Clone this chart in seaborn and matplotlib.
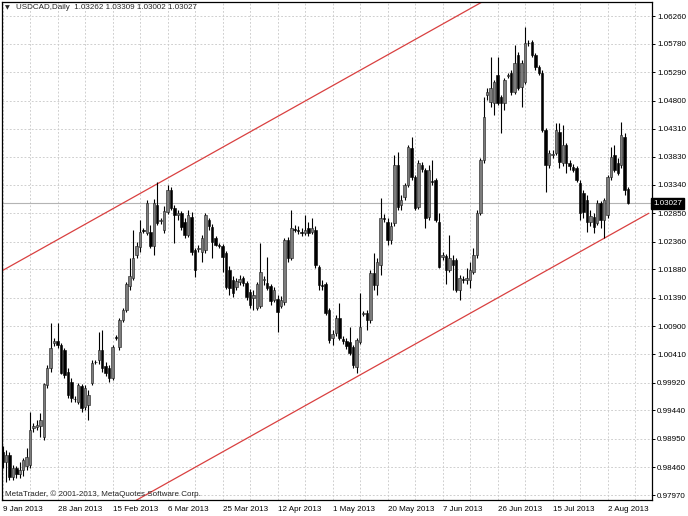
import numpy as np
import pandas as pd
import seaborn as sns
import matplotlib
matplotlib.use("Agg")
import matplotlib.pyplot as plt
import matplotlib.transforms as mtransforms

# --- data --------------------------------------------------------------
symbol = "USDCAD,Daily"
last_ohlc = [1.03262, 1.03309, 1.03002, 1.03027]
date_labels = ["9 Jan 2013", "28 Jan 2013", "15 Feb 2013", "6 Mar 2013",
               "25 Mar 2013", "12 Apr 2013", "1 May 2013", "20 May 2013",
               "7 Jun 2013", "26 Jun 2013", "15 Jul 2013", "2 Aug 2013"]
bars_per_label = 16

opens = [0.9872, 0.9855, 0.9867, 0.9829, 0.9844, 0.9834, 0.9841, 0.9848, 0.9850, 0.9914,
         0.9915, 0.9917, 0.9898, 0.9988, 1.0018, 1.0061, 1.0064, 1.0057, 1.0049, 1.0011,
         0.9993, 0.9964, 0.9959, 0.9986, 0.9950, 0.9953, 0.9991, 1.0028, 1.0031, 1.0049,
         1.0021, 1.0018, 1.0000, 1.0071, 1.0054, 1.0100, 1.0118, 1.0159, 1.0173, 1.0213,
         1.0227, 1.0256, 1.0251, 1.0253, 1.0228, 1.0299, 1.0272, 1.0256, 1.0287, 1.0325,
         1.0294, 1.0282, 1.0286, 1.0270, 1.0248, 1.0279, 1.0222, 1.0223, 1.0218, 1.0222,
         1.0273, 1.0261, 1.0242, 1.0230, 1.0228, 1.0216, 1.0187, 1.0170, 1.0157, 1.0166,
         1.0173, 1.0164, 1.0149, 1.0138, 1.0121, 1.0125, 1.0170, 1.0164, 1.0159, 1.0135,
         1.0137, 1.0125, 1.0131, 1.0239, 1.0208, 1.0258, 1.0256, 1.0253, 1.0251, 1.0260,
         1.0253, 1.0256, 1.0192, 1.0161, 1.0163, 1.0118, 1.0069, 1.0078, 1.0104, 1.0067,
         1.0064, 1.0062, 1.0054, 1.0019, 1.0062, 1.0111, 1.0113, 1.0100, 1.0182, 1.0161,
         1.0196, 1.0277, 1.0270, 1.0239, 1.0268, 1.0369, 1.0299, 1.0313, 1.0334, 1.0398,
         1.0348, 1.0296, 1.0369, 1.0360, 1.0279, 1.0341, 1.0343, 1.0270, 1.0209, 1.0211,
         1.0187, 1.0204, 1.0204, 1.0152, 1.0171, 1.0170, 1.0170, 1.0183, 1.0213, 1.0286,
         1.0377, 1.0490, 1.0478, 1.0476, 1.0524, 1.0486, 1.0476, 1.0523, 1.0528, 1.0495,
         1.0559, 1.0503, 1.0512, 1.0580, 1.0581, 1.0559, 1.0538, 1.0528, 1.0429, 1.0369,
         1.0386, 1.0389, 1.0426, 1.0372, 1.0403, 1.0372, 1.0365, 1.0363, 1.0337, 1.0320,
         1.0308, 1.0270, 1.0279, 1.0268, 1.0303, 1.0273, 1.0282, 1.0348, 1.0386, 1.0372,
         1.0369, 1.0417, 1.03262]
highs = [0.9882, 0.9876, 0.9872, 0.9850, 0.9848, 0.9855, 0.9862, 0.9879, 0.9941, 0.9922,
         0.9927, 0.9939, 0.9991, 1.0023, 1.0095, 1.0069, 1.0095, 1.0061, 1.0052, 1.0018,
         1.0000, 0.9969, 0.9991, 0.9990, 0.9988, 0.9979, 1.0031, 1.0031, 1.0080, 1.0083,
         1.0028, 1.0023, 1.0057, 1.0075, 1.0104, 1.0121, 1.0166, 1.0208, 1.0256, 1.0235,
         1.0273, 1.0260, 1.0308, 1.0265, 1.0310, 1.0339, 1.0277, 1.0298, 1.0334, 1.0331,
         1.0299, 1.0291, 1.0289, 1.0277, 1.0291, 1.0287, 1.0225, 1.0230, 1.0248, 1.0286,
         1.0277, 1.0267, 1.0246, 1.0234, 1.0232, 1.0220, 1.0194, 1.0177, 1.0173, 1.0178,
         1.0177, 1.0168, 1.0154, 1.0152, 1.0166, 1.0234, 1.0177, 1.0209, 1.0163, 1.0157,
         1.0144, 1.0142, 1.0242, 1.0244, 1.0291, 1.0265, 1.0263, 1.0260, 1.0282, 1.0270,
         1.0277, 1.0263, 1.0196, 1.0170, 1.0166, 1.0121, 1.0083, 1.0109, 1.0130, 1.0073,
         1.0069, 1.0088, 1.0057, 1.0069, 1.0147, 1.0116, 1.0118, 1.0187, 1.0216, 1.0208,
         1.0311, 1.0284, 1.0277, 1.0270, 1.0386, 1.0391, 1.0317, 1.0337, 1.0403, 1.0417,
         1.0351, 1.0377, 1.0374, 1.0363, 1.0369, 1.0377, 1.0346, 1.0286, 1.0218, 1.0215,
         1.0248, 1.0213, 1.0208, 1.0178, 1.0177, 1.0190, 1.0201, 1.0225, 1.0291, 1.0381,
         1.0486, 1.0502, 1.0555, 1.0516, 1.0555, 1.0490, 1.0519, 1.0528, 1.0533, 1.0576,
         1.0564, 1.0550, 1.0607, 1.0585, 1.0585, 1.0562, 1.0542, 1.0533, 1.0433, 1.0395,
         1.0395, 1.0441, 1.0441, 1.0438, 1.0407, 1.0377, 1.0370, 1.0367, 1.0343, 1.0325,
         1.0317, 1.0291, 1.0286, 1.0308, 1.0306, 1.0311, 1.0351, 1.0400, 1.0403, 1.0381,
         1.0443, 1.0424, 1.03309]
lows = [0.9844, 0.9820, 0.9824, 0.9824, 0.9827, 0.9827, 0.9831, 0.9841, 0.9844, 0.9907,
        0.9910, 0.9898, 0.9893, 0.9983, 1.0011, 1.0055, 1.0052, 1.0007, 1.0000, 0.9965,
        0.9959, 0.9959, 0.9955, 0.9941, 0.9945, 0.9927, 0.9988, 1.0024, 1.0024, 1.0011,
        1.0004, 0.9993, 0.9997, 1.0066, 1.0049, 1.0097, 1.0114, 1.0152, 1.0170, 1.0208,
        1.0218, 1.0251, 1.0248, 1.0225, 1.0213, 1.0265, 1.0267, 1.0251, 1.0284, 1.0291,
        1.0234, 1.0273, 1.0256, 1.0242, 1.0244, 1.0213, 1.0175, 1.0218, 1.0201, 1.0216,
        1.0256, 1.0208, 1.0228, 1.0225, 1.0183, 1.0154, 1.0144, 1.0140, 1.0152, 1.0161,
        1.0159, 1.0135, 1.0121, 1.0118, 1.0118, 1.0121, 1.0161, 1.0152, 1.0126, 1.0131,
        1.0080, 1.0121, 1.0126, 1.0201, 1.0204, 1.0253, 1.0249, 1.0246, 1.0248, 1.0246,
        1.0249, 1.0190, 1.0152, 1.0152, 1.0109, 1.0061, 1.0057, 1.0073, 1.0066, 1.0059,
        1.0050, 1.0040, 1.0018, 1.0009, 1.0059, 1.0107, 1.0083, 1.0095, 1.0152, 1.0144,
        1.0178, 1.0270, 1.0230, 1.0232, 1.0263, 1.0291, 1.0291, 1.0308, 1.0331, 1.0343,
        1.0291, 1.0293, 1.0356, 1.0260, 1.0273, 1.0334, 1.0270, 1.0190, 1.0204, 1.0163,
        1.0183, 1.0152, 1.0149, 1.0135, 1.0164, 1.0163, 1.0156, 1.0180, 1.0208, 1.0282,
        1.0372, 1.0481, 1.0469, 1.0455, 1.0472, 1.0424, 1.0464, 1.0519, 1.0490, 1.0491,
        1.0498, 1.0469, 1.0509, 1.0574, 1.0555, 1.0533, 1.0524, 1.0426, 1.0322, 1.0363,
        1.0381, 1.0386, 1.0363, 1.0367, 1.0355, 1.0360, 1.0356, 1.0339, 1.0273, 1.0277,
        1.0253, 1.0263, 1.0251, 1.0265, 1.0260, 1.0242, 1.0277, 1.0343, 1.0356, 1.0351,
        1.0363, 1.0317, 1.03002]
closes = [0.9855, 0.9867, 0.9829, 0.9844, 0.9834, 0.9841, 0.9858, 0.9863, 0.9910, 0.9917,
          0.9919, 0.9927, 0.9990, 1.0018, 1.0052, 1.0064, 1.0057, 1.0009, 1.0005, 0.9971,
          0.9965, 0.9963, 0.9988, 0.9948, 0.9983, 0.9971, 1.0026, 1.0027, 1.0049, 1.0018,
          1.0009, 1.0000, 1.0054, 1.0070, 1.0100, 1.0118, 1.0163, 1.0177, 1.0208, 1.0228,
          1.0253, 1.0254, 1.0303, 1.0228, 1.0303, 1.0268, 1.0273, 1.0289, 1.0325, 1.0294,
          1.0282, 1.0286, 1.0261, 1.0248, 1.0282, 1.0218, 1.0187, 1.0225, 1.0242, 1.0282,
          1.0263, 1.0235, 1.0230, 1.0228, 1.0209, 1.0157, 1.0156, 1.0147, 1.0168, 1.0171,
          1.0164, 1.0140, 1.0126, 1.0144, 1.0163, 1.0183, 1.0171, 1.0156, 1.0133, 1.0152,
          1.0114, 1.0135, 1.0239, 1.0208, 1.0260, 1.0256, 1.0254, 1.0251, 1.0256, 1.0251,
          1.0260, 1.0196, 1.0161, 1.0159, 1.0113, 1.0066, 1.0076, 1.0104, 1.0069, 1.0064,
          1.0055, 1.0043, 1.0023, 1.0066, 1.0088, 1.0113, 1.0100, 1.0182, 1.0161, 1.0201,
          1.0277, 1.0275, 1.0239, 1.0263, 1.0369, 1.0296, 1.0308, 1.0334, 1.0400, 1.0348,
          1.0294, 1.0372, 1.0362, 1.0277, 1.0360, 1.0339, 1.0273, 1.0192, 1.0213, 1.0187,
          1.0208, 1.0196, 1.0152, 1.0173, 1.0170, 1.0173, 1.0187, 1.0213, 1.0286, 1.0377,
          1.0452, 1.0495, 1.0502, 1.0512, 1.0476, 1.0476, 1.0516, 1.0524, 1.0495, 1.0545,
          1.0502, 1.0545, 1.0580, 1.0579, 1.0559, 1.0538, 1.0528, 1.0429, 1.0369, 1.0389,
          1.0388, 1.0429, 1.0374, 1.0403, 1.0372, 1.0367, 1.0360, 1.0343, 1.0286, 1.0287,
          1.0270, 1.0280, 1.0261, 1.0303, 1.0273, 1.0308, 1.0348, 1.0382, 1.0360, 1.0355,
          1.0420, 1.0325, 1.03027]

# regression channel, two anchor points each
channel_bars = [0, 188]
upper_channel = [1.0186, 1.0812]
lower_channel = [0.9659, 1.0285]

y_ticks = [1.06260, 1.05780, 1.05290, 1.04800, 1.04310, 1.03830, 1.03340, 1.02850,
           1.02360, 1.01880, 1.01390, 1.00900, 1.00410, 0.99920, 0.99440, 0.98950,
           0.98460, 0.97970]

# -----------------------------------------------------------------------
df = pd.DataFrame({"open": opens, "high": highs, "low": lows, "close": closes})
df["bar"] = np.arange(len(df))
df["bull"] = df["close"] >= df["open"]

chan = pd.DataFrame({
    "bar": channel_bars * 2,
    "price": upper_channel + lower_channel,
    "line": ["upper"] * 2 + ["lower"] * 2,
})

sns.set_theme(style="white")
plt.rcParams["font.family"] = ["Liberation Sans", "DejaVu Sans"]
fs = 5.8

fig = plt.figure(figsize=(6.88, 5.16), dpi=100)
ax = fig.add_axes([1.5 / 688, 16 / 516, 650 / 688, 498 / 516])

grid_kw = dict(color="#c8c8c8", lw=0.6, ls=(0, (2.2, 2.2)), zorder=0)
for yt in y_ticks:
    ax.axhline(yt, **grid_kw)
for xg in range(0, 190, bars_per_label // 2):
    ax.axvline(xg, **grid_kw)

# current price line
ax.axhline(last_ohlc[3], color="#b4b4b4", lw=0.8, zorder=1)

# channel
sns.lineplot(data=chan, x="bar", y="price", units="line", estimator=None,
             color="#d94040", lw=0.9, ax=ax, zorder=2, legend=False)

# candles
ax.vlines(df["bar"], df["low"], df["high"], color="black", lw=0.8, zorder=3)
body_lo = df[["open", "close"]].min(axis=1)
body_h = (df["close"] - df["open"]).abs().clip(lower=0.00012)
ax.bar(df["bar"][df["bull"]], body_h[df["bull"]], bottom=body_lo[df["bull"]],
       width=0.72, color="#7c7c7c", edgecolor="#1a1a1a", lw=0.4, zorder=4)
ax.bar(df["bar"][~df["bull"]], body_h[~df["bull"]], bottom=body_lo[~df["bull"]],
       width=0.72, color="black", edgecolor="black", lw=0.4, zorder=4)

ax.set_xlim(-0.3, 188.8)
ax.set_ylim(0.9789, 1.06505)
ax.set_xlabel("")
ax.set_ylabel("")

ax.yaxis.tick_right()
ax.set_yticks(y_ticks)
ax.set_yticklabels([f"{v:.5f}" for v in y_ticks])
ax.set_xticks([k * bars_per_label for k in range(len(date_labels))])
ax.set_xticklabels(date_labels, ha="left")
ax.tick_params(axis="both", direction="out", length=2.5, width=0.7,
               labelsize=fs, colors="black", pad=1.5)
ax.tick_params(axis="x", pad=1.5)
for s in ax.spines.values():
    s.set_color("black")
    s.set_linewidth(0.9)

# current price box on the price scale
trans = mtransforms.blended_transform_factory(ax.transAxes, ax.transData)
ax.text(1.003, last_ohlc[3], f"{last_ohlc[3]:.5f}", transform=trans,
        ha="left", va="center", fontsize=fs, color="white", zorder=6,
        bbox=dict(boxstyle="square,pad=0.25", fc="black", ec="black"),
        clip_on=False)

# header and footer text
ax.text(0.005, 0.988, "\u25bc", transform=ax.transAxes, fontsize=4.5,
        ha="left", va="center", family=["DejaVu Sans"])
ax.text(0.022, 0.988,
        f"{symbol}  " + " ".join(f"{v:.5f}" for v in last_ohlc),
        transform=ax.transAxes, fontsize=fs, ha="left", va="center")
ax.text(0.006, 0.012, "MetaTrader, \u00a9 2001-2013, MetaQuotes Software Corp.",
        transform=ax.transAxes, fontsize=fs, ha="left", va="center")

fig.savefig("out.png", dpi=100, facecolor="white")
